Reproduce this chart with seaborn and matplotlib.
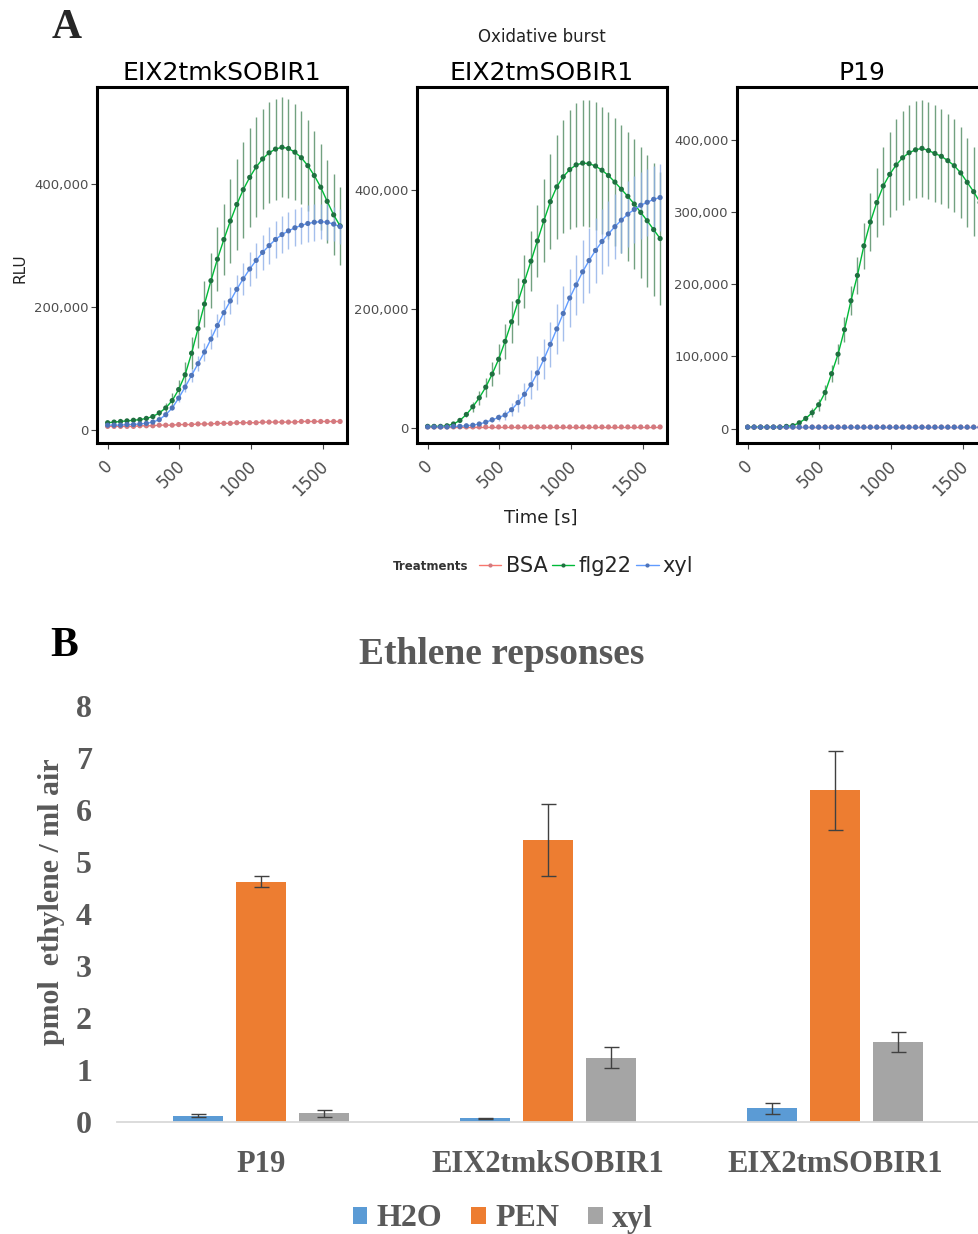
import numpy as np
import pandas as pd
import matplotlib
matplotlib.use('Agg')
import matplotlib.pyplot as plt
import matplotlib.transforms as mtransforms
from matplotlib.lines import Line2D
from matplotlib.patches import Patch
from matplotlib.ticker import FuncFormatter
import seaborn as sns

sns.set_theme(style='white')
plt.rcParams['font.family'] = ['DejaVu Sans']
SERIF = 'Liberation Serif'

# ---------------- Panel A: oxidative burst (RLU, thousands) ----------------
times = [0, 45, 90, 135, 180, 225, 270, 315, 360, 405, 450, 495, 540, 585, 630,
         675, 720, 765, 810, 855, 900, 945, 990, 1035, 1080, 1125, 1170, 1215,
         1260, 1305, 1350, 1395, 1440, 1485, 1530, 1575, 1620]
treatments = ['BSA', 'flg22', 'xyl']
panels = ['EIX2tmkSOBIR1', 'EIX2tmSOBIR1', 'P19']

# EIX2tmkSOBIR1
tmk_bsa = [6, 6, 6, 6, 6, 7, 7, 7, 8, 8, 8, 9, 9, 9, 10, 10, 10, 11, 11, 11, 12, 12,
           12, 12, 13, 13, 13, 13, 13, 13, 14, 14, 14, 14, 14, 14, 14]
tmk_bsa_err = [1, 1, 1, 1, 1, 1, 1, 1, 1, 1, 1, 1, 1, 1, 1, 1, 1, 1, 1, 1, 1, 1,
               1, 1, 1, 1, 1, 1, 1, 1, 1, 1, 1, 1, 1, 1, 1]
tmk_flg22 = [12, 13, 14, 15, 16, 17, 19, 22, 28, 36, 48, 66, 90, 125, 165, 205, 243,
             278, 310, 340, 367, 391, 411, 428, 441, 451, 457, 460, 458, 452, 443,
             430, 414, 395, 372, 350, 332]
tmk_flg22_err = [3, 3, 3, 3, 3, 3, 3, 4, 5, 8, 12, 16, 20, 26, 32, 38, 45, 52, 58, 68,
                 74, 78, 80, 81, 82, 82, 82, 81, 80, 78, 76, 74, 72, 70, 68, 66, 64]
tmk_xyl = [8, 8, 8, 9, 9, 10, 11, 13, 17, 25, 36, 52, 70, 89, 108, 127, 148, 170,
           191, 210, 229, 246, 262, 276, 289, 300, 310, 318, 324, 329, 333, 336,
           338, 339, 338, 335, 331]
tmk_xyl_err = [1, 1, 1, 1, 1, 1, 1, 2, 2, 3, 4, 6, 8, 10, 12, 14, 16, 18, 20, 22, 24,
               26, 27, 28, 29, 30, 30, 30, 30, 30, 30, 30, 30, 29, 29, 28, 28]

# EIX2tmSOBIR1
tm_bsa = [1, 1, 1, 1, 1, 1, 1, 1, 1, 1, 1, 1, 1, 1, 1, 1, 1, 1, 1, 1, 1, 1,
          1, 1, 1, 1, 1, 1, 1, 1, 1, 1, 1, 1, 1, 1, 1]
tm_bsa_err = [1, 1, 1, 1, 1, 1, 1, 1, 1, 1, 1, 1, 1, 1, 1, 1, 1, 1, 1, 1, 1, 1,
              1, 1, 1, 1, 1, 1, 1, 1, 1, 1, 1, 1, 1, 1, 1]
tm_flg22 = [2, 2, 2, 3, 6, 12, 22, 35, 50, 68, 90, 115, 145, 178, 212, 246, 280, 314,
            348, 380, 405, 422, 434, 442, 445, 444, 440, 433, 424, 413, 401, 389,
            376, 362, 348, 333, 318]
tm_flg22_err = [2, 2, 2, 2, 2, 2, 5, 8, 12, 16, 20, 25, 30, 35, 40, 45, 50, 60, 70, 80,
                88, 95, 100, 104, 106, 107, 107, 107, 107, 108, 108, 109, 110, 110,
                111, 112, 112]
tm_xyl = [1, 1, 1, 1, 2, 2, 3, 4, 6, 9, 13, 17, 21, 30, 42, 56, 72, 92, 115, 140, 166,
          192, 218, 240, 262, 281, 298, 313, 326, 338, 349, 359, 367, 374, 379, 384, 387]
tm_xyl_err = [1, 1, 1, 1, 1, 1, 1, 2, 2, 3, 4, 6, 8, 11, 15, 19, 24, 29, 34, 38, 42,
              46, 49, 51, 53, 54, 55, 55, 55, 55, 56, 56, 56, 56, 56, 56, 56]

# P19
p19_bsa = [2, 2, 2, 2, 2, 2, 2, 2, 2, 2, 2, 2, 2, 2, 2, 2, 2, 2, 2, 2, 2, 2,
           2, 2, 2, 2, 2, 2, 2, 2, 2, 2, 2, 2, 2, 2, 2]
p19_bsa_err = [1, 1, 1, 1, 1, 1, 1, 1, 1, 1, 1, 1, 1, 1, 1, 1, 1, 1, 1, 1, 1, 1,
               1, 1, 1, 1, 1, 1, 1, 1, 1, 1, 1, 1, 1, 1, 1]
p19_flg22 = [2, 2, 2, 2, 2, 2, 3, 4, 8, 14, 22, 33, 50, 76, 103, 137, 177, 212, 253,
             286, 313, 336, 352, 365, 375, 382, 386, 388, 385, 381, 377, 371, 364,
             354, 341, 328, 313]
p19_flg22_err = [1, 1, 1, 1, 1, 1, 1, 2, 3, 4, 6, 8, 10, 12, 14, 17, 20, 25, 32, 40,
                 48, 54, 59, 63, 65, 66, 67, 67, 67, 67, 66, 65, 64, 63, 62, 62, 61]
p19_xyl = [2, 2, 2, 2, 2, 2, 2, 2, 2, 2, 2, 2, 2, 2, 2, 2, 2, 2, 2, 2, 2, 2,
           2, 2, 2, 2, 2, 2, 2, 2, 2, 2, 2, 2, 2, 2, 2]
p19_xyl_err = [1, 1, 1, 1, 1, 1, 1, 1, 1, 1, 1, 1, 1, 1, 1, 1, 1, 1, 1, 1, 1, 1,
               1, 1, 1, 1, 1, 1, 1, 1, 1, 1, 1, 1, 1, 1, 1]

burst_series = {
    'EIX2tmkSOBIR1': {'BSA': (tmk_bsa, tmk_bsa_err), 'flg22': (tmk_flg22, tmk_flg22_err),
                      'xyl': (tmk_xyl, tmk_xyl_err)},
    'EIX2tmSOBIR1': {'BSA': (tm_bsa, tm_bsa_err), 'flg22': (tm_flg22, tm_flg22_err),
                     'xyl': (tm_xyl, tm_xyl_err)},
    'P19': {'BSA': (p19_bsa, p19_bsa_err), 'flg22': (p19_flg22, p19_flg22_err),
            'xyl': (p19_xyl, p19_xyl_err)},
}

rows = []
for panel, series in burst_series.items():
    for trt, (vals, errs) in series.items():
        for t, v, e in zip(times, vals, errs):
            rows.append({'panel': panel, 'treatment': trt, 'time': t,
                         'rlu': v * 1000, 'err': e * 1000})
burst = pd.DataFrame(rows)

# ---------------- Panel B: ethylene ----------------
genotypes = ['P19', 'EIX2tmkSOBIR1', 'EIX2tmSOBIR1']
treat_b = ['H2O', 'PEN', 'xyl']
h2o = [0.12, 0.07, 0.26]
h2o_err = [0.03, 0.01, 0.11]
pen = [4.62, 5.43, 6.38]
pen_err = [0.11, 0.69, 0.76]
xyl = [0.17, 1.24, 1.54]
xyl_err = [0.07, 0.21, 0.20]

eth = pd.DataFrame({
    'genotype': genotypes * 3,
    'treatment': ['H2O'] * 3 + ['PEN'] * 3 + ['xyl'] * 3,
    'value': h2o + pen + xyl,
})
eth_err = {'H2O': h2o_err, 'PEN': pen_err, 'xyl': xyl_err}

# ---------------- styling ----------------
line_colors = {'BSA': '#F8766D', 'flg22': '#00BA38', 'xyl': '#619CFF'}
point_colors = {'BSA': '#d27a80', 'flg22': '#1f7040', 'xyl': '#4f74b8'}
err_colors = {'BSA': '#f3a7a7', 'flg22': '#4f8a60', 'xyl': '#8fb0e8'}
bar_colors = {'H2O': '#5B9BD5', 'PEN': '#ED7D31', 'xyl': '#A5A5A5'}
GRAY_B = '#595959'

W, H = 979, 1234
fig = plt.figure(figsize=(W / 100, H / 100), dpi=100)

ylims = {'EIX2tmkSOBIR1': (-21000, 558000), 'EIX2tmSOBIR1': (-26000, 573000),
         'P19': (-20000, 473000)}
yticks = {'EIX2tmkSOBIR1': [0, 200000, 400000], 'EIX2tmSOBIR1': [0, 200000, 400000],
          'P19': [0, 100000, 200000, 300000, 400000]}
lefts = [97, 417, 737]

for i, panel in enumerate(panels):
    ax = fig.add_axes([lefts[i] / W, 1 - 443 / H, 250 / W, 356 / H])
    sub = burst[burst['panel'] == panel]
    for trt in treatments:
        s = sub[sub['treatment'] == trt]
        ax.errorbar(s['time'], s['rlu'], yerr=s['err'], fmt='none',
                    ecolor=err_colors[trt], elinewidth=1.0, alpha=0.8, zorder=1)
    sns.lineplot(data=sub, x='time', y='rlu', hue='treatment', hue_order=treatments,
                 palette=line_colors, linewidth=1.0, errorbar=None, legend=False,
                 ax=ax, zorder=2)
    sns.scatterplot(data=sub, x='time', y='rlu', hue='treatment', hue_order=treatments,
                    palette=point_colors, s=14, linewidth=0, legend=False, ax=ax,
                    zorder=3)
    ax.set_xlim(-74, 1668)
    ax.set_ylim(*ylims[panel])
    ax.set_yticks(yticks[panel])
    ax.yaxis.set_major_formatter(FuncFormatter(lambda v, p: f'{int(v):,}'))
    ax.set_xticks([0, 500, 1000, 1500])
    ax.set_xticklabels(['0', '500', '1000', '1500'], rotation=45, ha='right', va='top')
    ax.set_xlabel('')
    ax.set_ylabel('')
    ax.set_title(panel, fontsize=18, pad=5, color='black')
    ax.tick_params(axis='both', which='major', bottom=True, left=True, length=4,
                   width=0.8, color='#444444', labelcolor='#4d4d4d', direction='out')
    ax.tick_params(axis='x', labelsize=12, pad=6)
    ax.tick_params(axis='y', labelsize=9.5, pad=2)
    # shift the rotated labels a little to the right, as in the original
    offset = mtransforms.ScaledTranslation(9 / 100, 0, fig.dpi_scale_trans)
    for lbl in ax.get_xticklabels():
        lbl.set_transform(lbl.get_transform() + offset)
    for sp in ax.spines.values():
        sp.set_visible(True)
        sp.set_color('black')
        sp.set_linewidth(2.2)

fig.text(52 / W, 1 - 28 / H, 'A', fontsize=30, fontweight='bold', family=SERIF,
         ha='left', va='center')
fig.text(542 / W, 1 - 37 / H, 'Oxidative burst', fontsize=12, ha='center', va='center',
         color='#222222')
fig.text(541 / W, 1 - 518 / H, 'Time [s]', fontsize=13, ha='center', va='center',
         color='#222222')
fig.text(20 / W, 1 - 268 / H, 'RLU', fontsize=11, rotation=90, ha='center',
         va='center', color='#222222')

# legend for panel A
handles = [Line2D([0], [0], color=line_colors[t], lw=1, marker='o', markersize=3,
                  markerfacecolor=point_colors[t], markeredgewidth=0) for t in treatments]
leg = fig.legend(handles, treatments, loc='center', ncol=3, frameon=False,
                 bbox_to_anchor=(586 / W, 1 - 566 / H), fontsize=15, handlelength=1.1,
                 handletextpad=0.2, columnspacing=0.2, borderpad=0)
fig.text(468 / W, 1 - 566 / H, 'Treatments', fontsize=8.5, fontweight='bold',
         ha='right', va='center', color='#333333')

# ---------------- Panel B ----------------
axb = fig.add_axes([117 / W, 1 - 1122 / H, 862 / W, 416 / H])
sns.barplot(data=eth, x='genotype', y='value', hue='treatment', order=genotypes,
            hue_order=treat_b, palette=bar_colors, width=0.657, gap=0.205,
            saturation=1, errorbar=None, linewidth=0, legend=False, ax=axb)
for cont, trt in zip(axb.containers, treat_b):
    xs = [p.get_x() + p.get_width() / 2 for p in cont]
    ys = [p.get_height() for p in cont]
    axb.errorbar(xs, ys, yerr=eth_err[trt], fmt='none', ecolor='#404040',
                 elinewidth=1.0, capsize=5.4, capthick=1.0, zorder=3)
axb.set_xlim(-0.5, 2.5)
axb.set_ylim(0, 8)
axb.set_yticks(range(9), labels=[str(v) for v in range(9)], fontsize=23,
               fontweight='bold', family=SERIF, color=GRAY_B)
axb.set_xticks(range(3), labels=genotypes, fontsize=22, fontweight='bold',
               family=SERIF, color=GRAY_B)
axb.tick_params(axis='both', length=0)
axb.tick_params(axis='y', pad=18)
axb.tick_params(axis='x', pad=20)
axb.set_xlabel('')
axb.set_ylabel('')
for side in ['left', 'top', 'right']:
    axb.spines[side].set_visible(False)
axb.spines['bottom'].set_color('#d9d9d9')
axb.spines['bottom'].set_linewidth(1.3)

fig.text(52 / W, 1 - 902 / H, 'pmol  ethylene / ml air', fontsize=21.5, fontweight='bold',
         family=SERIF, rotation=90, ha='center', va='center', color=GRAY_B)
fig.text(502 / W, 1 - 655 / H, 'Ethlene repsonses', fontsize=27, fontweight='bold',
         family=SERIF, ha='center', va='center', color=GRAY_B)
fig.text(50 / W, 1 - 646 / H, 'B', fontsize=30, fontweight='bold', family=SERIF,
         ha='left', va='center', color='black')

bhandles = [Patch(facecolor=bar_colors[t], edgecolor='none') for t in treat_b]
legb = fig.legend(bhandles, treat_b, loc='center', ncol=3, frameon=False,
                  bbox_to_anchor=(503 / W, 1 - 1219 / H), handlelength=0.45,
                  handleheight=0.45, handletextpad=0.3, columnspacing=0.9,
                  borderpad=0, prop={'family': SERIF, 'weight': 'bold', 'size': 23})
for txt in legb.get_texts():
    txt.set_color(GRAY_B)

fig.savefig('out.png', dpi=100)
